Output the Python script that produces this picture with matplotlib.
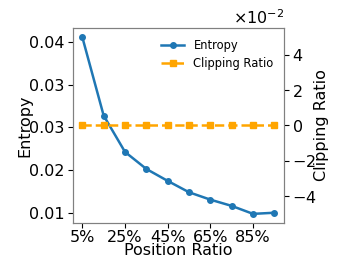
import numpy as np
import matplotlib
matplotlib.use('Agg')
import matplotlib.pyplot as plt
from matplotlib.ticker import FormatStrFormatter

# данные
position = [5, 15, 25, 35, 45, 55, 65, 75, 85, 95]
entropy = [0.0409, 0.0271, 0.0207, 0.0177, 0.0156, 0.0136, 0.0123, 0.0112, 0.0098, 0.0100]
clipping_ratio = [0, 0, 0, 0, 0, 0, 0, 0, 0, 0]
xticks = [5, 25, 45, 65, 85]
xtick_labels = ['5%', '25%', '45%', '65%', '85%']
entropy_ticks = np.linspace(0.01, 0.04, 5)
clip_ticks = [-0.04, -0.02, 0.0, 0.02, 0.04]

fig = plt.figure(figsize=(3.47, 2.77), dpi=100)
ax = fig.add_axes([0.2095, 0.196, 0.609, 0.702])
ax2 = ax.twinx()

l1, = ax.plot(position, entropy, color='#1f77b4', marker='o', markersize=4,
              linewidth=1.8, label='Entropy')
l2, = ax2.plot(position, clipping_ratio, color='orange', marker='s', markersize=4,
               linewidth=1.8, linestyle='--', label='Clipping Ratio')

ax.set_xticks(xticks)
ax.set_xticklabels(xtick_labels)
ax.set_yticks(entropy_ticks)
ax.yaxis.set_major_formatter(FormatStrFormatter('%.2f'))
ax2.set_yticks(clip_ticks)

ax.set_xlabel('Position Ratio', fontsize=11.5, labelpad=-1)
ax.set_ylabel('Entropy', fontsize=11.5, labelpad=-2.5)
ax2.set_ylabel('Clipping Ratio', fontsize=11.5, labelpad=-2)

ax.tick_params(axis='x', labelsize=11.5, pad=1.5)
ax.tick_params(axis='y', labelsize=11.5, pad=2.5)
ax2.tick_params(labelsize=11.5, pad=2.5)
ax2.ticklabel_format(axis='y', style='sci', scilimits=(0, 0), useMathText=True)
ax2.yaxis.get_offset_text().set_fontsize(11.5)

for a in (ax, ax2):
    for s in a.spines.values():
        s.set_color('#808080')

ax.legend(handles=[l1, l2], loc='upper right', frameon=False, fontsize=8.3)

plt.savefig('out.png', dpi=100)
